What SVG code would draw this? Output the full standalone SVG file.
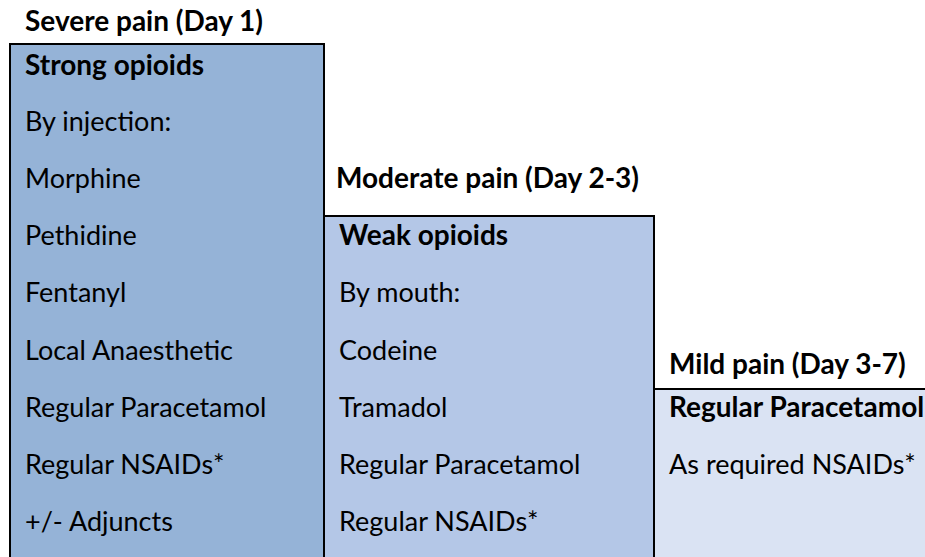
<svg xmlns="http://www.w3.org/2000/svg" width="925" height="557" viewBox="0 0 925 557">
  <style>
    text { font-family: Lato, "Open Sans", "Liberation Sans", sans-serif; font-size: 27px; fill: #000; }
    .h { font-weight: bold; font-size: 28px; }
    .box { stroke: #000; stroke-width: 2; }
    .severe { fill: #95B3D7; }
    .moderate { fill: #B4C7E7; }
    .mild { fill: #DAE3F3; }
  </style>
  <rect width="925" height="557" fill="#fff"/>

  <!-- Step 1: severe pain -->
  <g id="severe">
    <text class="h" x="25" y="31">Severe pain (Day 1)</text>
    <rect class="box severe" x="10" y="44" width="314" height="600"/>
    <text class="h" x="25" y="75">Strong opioids</text>
    <text x="25" y="131">By injection:</text>
    <text x="25" y="188">Morphine</text>
    <text x="25" y="245">Pethidine</text>
    <text x="25" y="302">Fentanyl</text>
    <text x="25" y="360">Local Anaesthetic</text>
    <text x="25" y="417">Regular Paracetamol</text>
    <text x="25" y="474">Regular NSAIDs*</text>
    <text x="25" y="531">+/- Adjuncts</text>
  </g>

  <!-- Step 2: moderate pain -->
  <g id="moderate">
    <text class="h" x="336" y="188">Moderate pain (Day 2-3)</text>
    <rect class="box moderate" x="324" y="216" width="330" height="500"/>
    <text class="h" x="339" y="245">Weak opioids</text>
    <text x="339" y="302">By mouth:</text>
    <text x="339" y="360">Codeine</text>
    <text x="339" y="417">Tramadol</text>
    <text x="339" y="474">Regular Paracetamol</text>
    <text x="339" y="531">Regular NSAIDs*</text>
  </g>

  <!-- Step 3: mild pain -->
  <g id="mild">
    <text class="h" x="669" y="374">Mild pain (Day 3-7)</text>
    <rect class="box mild" x="654" y="389" width="300" height="300"/>
    <text class="h" x="669" y="417">Regular Paracetamol</text>
    <text x="669" y="474">As required NSAIDs*</text>
  </g>

  <g id="connectors"/>
</svg>
